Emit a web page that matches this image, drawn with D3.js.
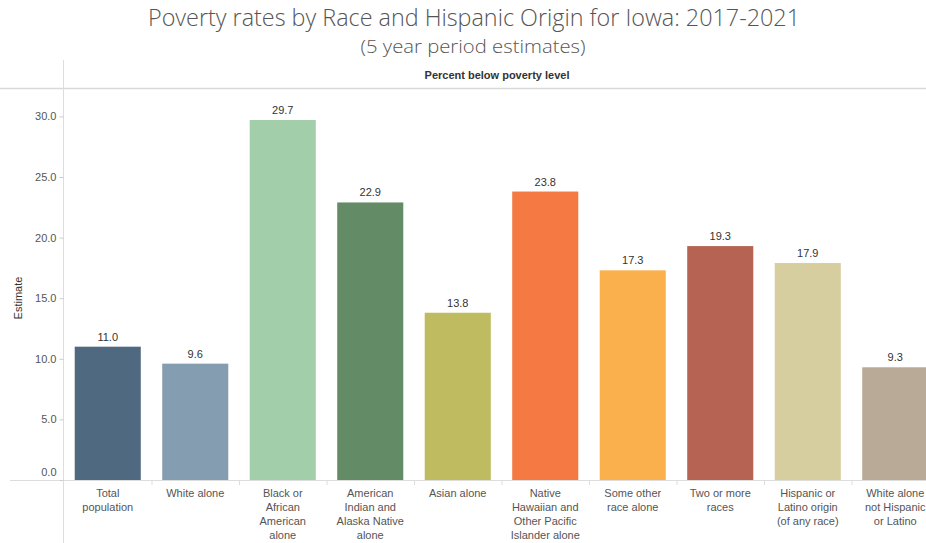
<!DOCTYPE html>
<html><head><meta charset="utf-8">
<script src="https://cdn.jsdelivr.net/npm/d3@7"></script>
<style>
body{margin:0;background:#fff;}
svg{display:block;}
</style></head>
<body><svg id="c" width="926" height="543"></svg>
<script>
const categories = [
  "Total population","White alone","Black or African American alone",
  "American Indian and Alaska Native alone","Asian alone",
  "Native Hawaiian and Other Pacific Islander alone","Some other race alone",
  "Two or more races","Hispanic or Latino origin (of any race)",
  "White alone not Hispanic or Latino"
];
const labelLines = [
  ["Total","population"],["White alone"],["Black or","African","American","alone"],
  ["American","Indian and","Alaska Native","alone"],["Asian alone"],
  ["Native","Hawaiian and","Other Pacific","Islander alone"],["Some other","race alone"],
  ["Two or more","races"],["Hispanic or","Latino origin","(of any race)"],
  ["White alone","not Hispanic","or Latino"]
];
const values = [11.0, 9.6, 29.7, 22.9, 13.8, 23.8, 17.3, 19.3, 17.9, 9.3];
const colors = ["#4f6980","#849db1","#a2ceaa","#638b66","#bfbb60","#f47942","#fbb04e","#b66353","#d7ce9f","#b9aa97"];
const yTicks = [0,5,10,15,20,25,30];

const svg = d3.select("#c");
const x0 = 64, step = 87.5;
const x = d3.scaleBand().domain(categories).range([x0, x0 + step*categories.length]).paddingInner(0.245).paddingOuter(0.1225);
const y = d3.scaleLinear().domain([0, 30]).range([480, 116.4]);

// title
svg.append("text").attr("x",474).attr("y",26).attr("text-anchor","middle")
  .attr("font-family","'Open Sans', sans-serif").attr("font-weight",300).attr("font-size",23).attr("fill","#555")
  .attr("textLength",652).attr("lengthAdjust","spacingAndGlyphs")
  .text("Poverty rates by Race and Hispanic Origin for Iowa: 2017-2021");
svg.append("text").attr("x",473).attr("y",53).attr("text-anchor","middle")
  .attr("font-family","'Open Sans', sans-serif").attr("font-weight",300).attr("font-size",19).attr("fill","#555")
  .attr("textLength",225).attr("lengthAdjust","spacingAndGlyphs")
  .text("(5 year period estimates)");
svg.append("text").attr("x",497).attr("y",79).attr("text-anchor","middle")
  .attr("font-family","'Liberation Sans', Arial, sans-serif").attr("font-weight","bold").attr("font-size",11).attr("fill","#333")
  .text("Percent below poverty level");

// header line and left axis line
svg.append("line").attr("x1",0).attr("x2",926).attr("y1",88.5).attr("y2",88.5).attr("stroke","#d9d9d9").attr("stroke-width",1.5);
svg.append("line").attr("x1",63.5).attr("x2",63.5).attr("y1",60).attr("y2",543).attr("stroke","#ddd").attr("stroke-width",1);

// bars
svg.append("g").selectAll("rect").data(values).join("rect")
  .attr("x",(d,i)=>x(categories[i])).attr("width",x.bandwidth())
  .attr("y",d=>y(d)).attr("height",d=>y(0)-y(d)).attr("fill",(d,i)=>colors[i]);

// value labels
svg.append("g").selectAll("text").data(values).join("text")
  .attr("x",(d,i)=>x(categories[i])+x.bandwidth()/2).attr("y",d=>y(d)-6)
  .attr("text-anchor","middle").attr("font-family","'Liberation Sans', Arial, sans-serif")
  .attr("font-size",11).attr("fill","#333").text(d=>d.toFixed(1));

// baseline
svg.append("line").attr("x1",10).attr("x2",926).attr("y1",480.5).attr("y2",480.5).attr("stroke","#ddd");
// boundary ticks
svg.append("g").selectAll("line").data(d3.range(1,categories.length)).join("line")
  .attr("x1",i=>x0+i*step+0.5).attr("x2",i=>x0+i*step+0.5).attr("y1",480).attr("y2",485).attr("stroke","#ddd");

// y axis
const yAxis = d3.axisLeft(y).tickValues(yTicks).tickFormat(d3.format(".1f")).tickSize(4).tickPadding(3);
const ga = svg.append("g").attr("transform","translate(63.5,0)").call(yAxis);
ga.select(".domain").remove();
ga.selectAll(".tick line").attr("stroke","#ccc");
ga.selectAll(".tick text").attr("font-family","'Liberation Sans', Arial, sans-serif").attr("font-size",11).attr("fill","#555");
ga.selectAll(".tick").filter(d=>d===0).select("text").attr("dy","-0.4em");
svg.append("text").attr("transform","translate(22,298) rotate(-90)").attr("text-anchor","middle")
  .attr("font-family","'Liberation Sans', Arial, sans-serif").attr("font-size",11).attr("fill","#333").text("Estimate");

// category labels
const cl = svg.append("g").selectAll("text").data(categories).join("text")
  .attr("x",d=>x(d)+x.bandwidth()/2).attr("y",497).attr("text-anchor","middle")
  .attr("font-family","'Liberation Sans', Arial, sans-serif").attr("font-size",11).attr("fill","#555");
cl.each(function(d,i){
  d3.select(this).selectAll("tspan").data(labelLines[i]).join("tspan")
    .attr("x",x(d)+x.bandwidth()/2).attr("dy",(t,j)=>j===0?0:14).text(t=>t);
});
</script></body></html>
